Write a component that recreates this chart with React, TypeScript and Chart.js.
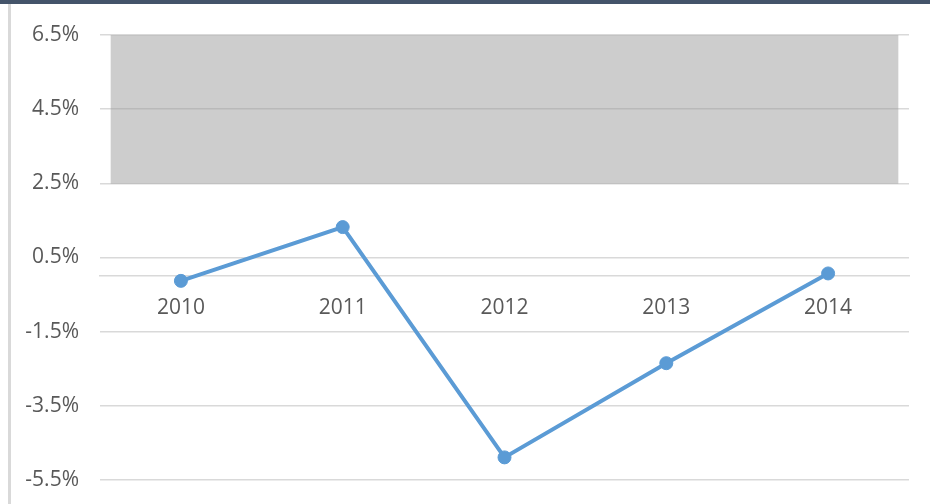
import React, { useEffect, useRef } from "react";
import { Chart, registerables } from "chart.js";

Chart.register(...registerables);

const years = ["2010", "2011", "2012", "2013", "2014"];
const growth = [-0.13, 1.32, -4.89, -2.35, 0.07];
// shaded target band 2.5%–6.5%, anchored on the middle category and spanning the plot
const bandRange: ([number, number] | null)[] = [null, null, [2.5, 6.5], null, null];
const yMin = -5.5;
const yMax = 6.5;
const yStep = 2;

export default function App() {
  const ref = useRef<HTMLCanvasElement | null>(null);

  useEffect(() => {
    if (!ref.current) return;
    const chart = new Chart(ref.current, {
      type: "line",
      data: {
        labels: years,
        datasets: [
          {
            type: "line",
            data: growth,
            borderColor: "#5b9bd5",
            backgroundColor: "#5b9bd5",
            borderWidth: 4,
            pointRadius: 6.5,
            pointBorderWidth: 1,
            pointBackgroundColor: "#5b9bd5",
            pointBorderColor: "#5b9bd5",
            tension: 0,
            order: 1,
          } as any,
          {
            type: "bar",
            data: bandRange as any,
            backgroundColor: "rgba(150,150,150,0.48)",
            borderWidth: 0,
            barThickness: 787,
            order: 2,
          } as any,
        ],
      },
      options: {
        animation: false,
        responsive: false,
        layout: { padding: { top: 35, right: 21, bottom: 24, left: 0 } },
        plugins: { legend: { display: false }, tooltip: { enabled: false } },
        scales: {
          x: {
            type: "category",
            position: { y: 0 } as any,
            offset: true,
            grid: { display: false, drawTicks: false },
            border: { display: true, color: "#d9d9d9", width: 1.5 },
            ticks: {
              color: "#595959",
              padding: 19,
              font: { family: "'Open Sans'", size: 21 },
              maxRotation: 0,
            },
          },
          y: {
            type: "linear",
            min: yMin,
            max: yMax,
            afterFit: (scale: any) => {
              scale.width = 100;
            },
            grid: {
              color: "#d9d9d9",
              lineWidth: 1.5,
              drawTicks: true,
              tickLength: 21,
              tickColor: "rgba(0,0,0,0)",
            },
            border: { display: false },
            ticks: {
              stepSize: yStep,
              color: "#595959",
              padding: 0,
              font: { family: "'Open Sans'", size: 21 },
              callback: (v: any) => Number(v).toFixed(1) + "%",
            },
          },
        },
      },
    });
    return () => chart.destroy();
  }, []);

  return (
    <div style={{ position: "absolute", left: 0, top: 0, width: 930, height: 504, background: "#fff", overflow: "hidden" }}>
      <canvas ref={ref} width={930} height={504} style={{ position: "absolute", left: 0, top: 0 }} />
      <div style={{ position: "absolute", left: 0, top: 0, width: 930, height: 4, background: "#44546a" }} />
      <div style={{ position: "absolute", left: 8, top: 4, width: 3, height: 500, background: "#d9d9d9" }} />
    </div>
  );
}
